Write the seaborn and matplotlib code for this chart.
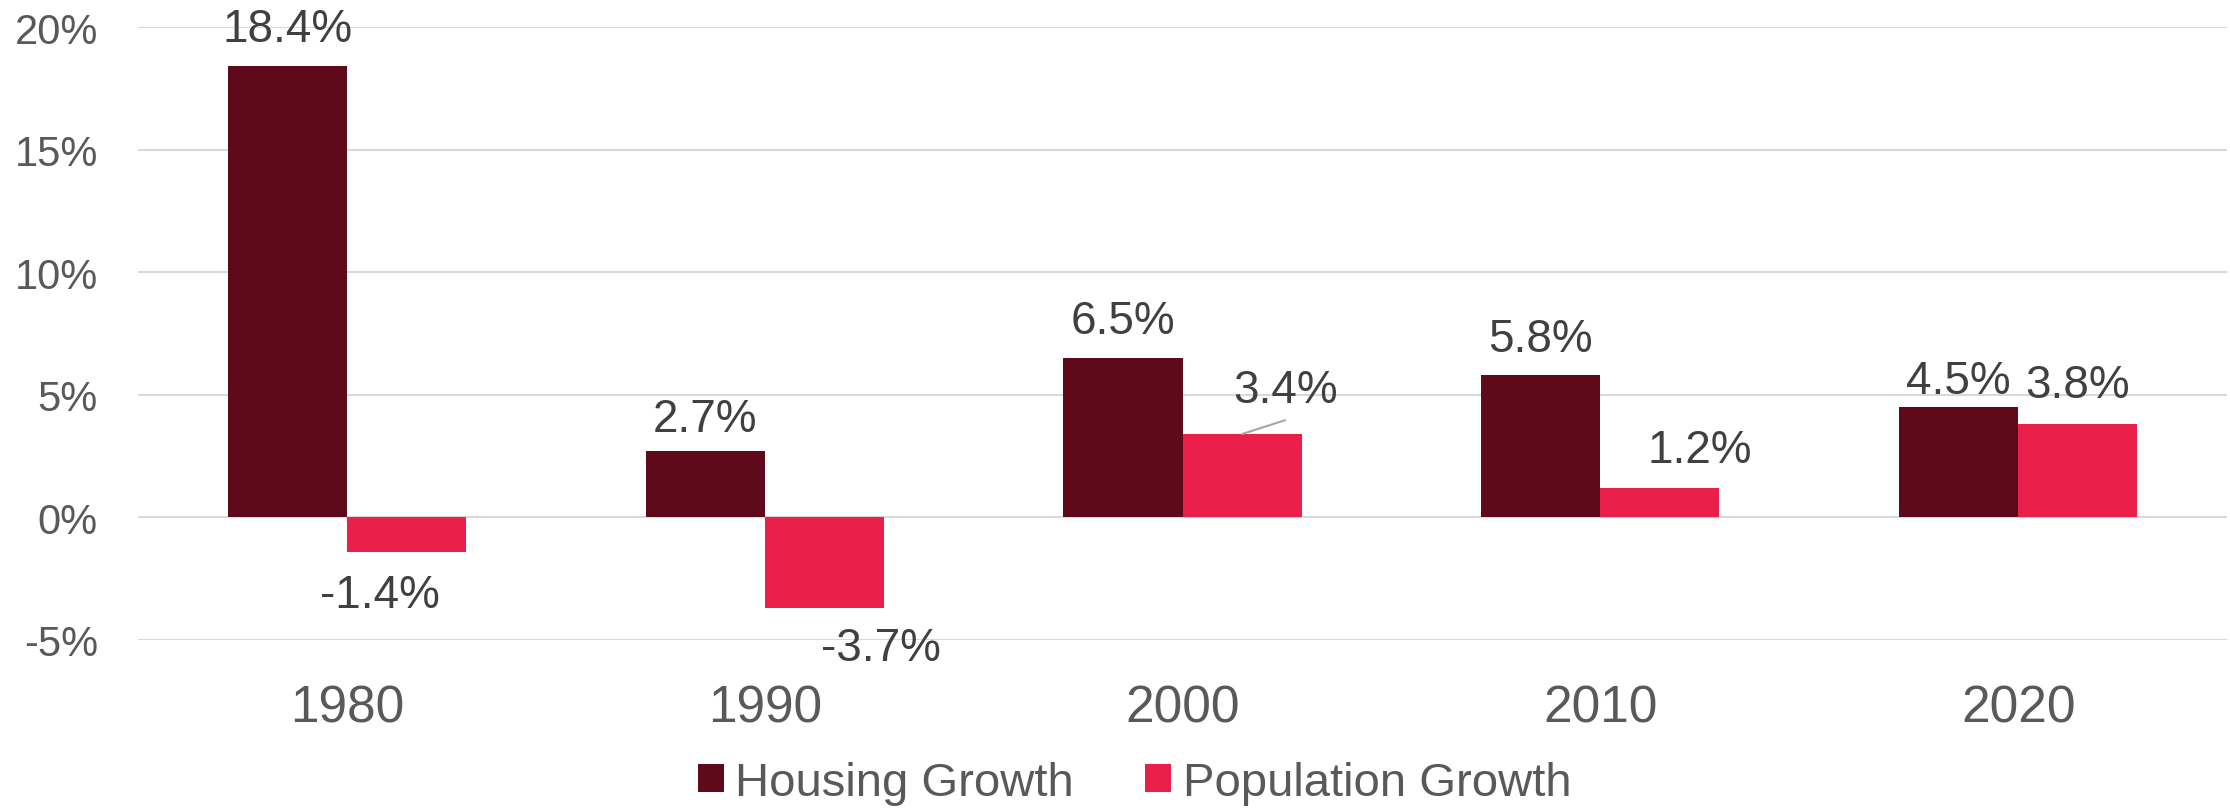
import matplotlib
matplotlib.use("Agg")
import matplotlib.pyplot as plt
import matplotlib.ticker as mticker
import pandas as pd
import seaborn as sns

# data
decades = ["1980", "1990", "2000", "2010", "2020"]
housing_growth = [18.4, 2.7, 6.5, 5.8, 4.5]
population_growth = [-1.4, -3.7, 3.4, 1.2, 3.8]
series_names = ["Housing Growth", "Population Growth"]
colors = ["#5E0A1B", "#EA204A"]

# label offsets (points) as they were hand-placed in the original
housing_offsets = [(0, 27), (0, 23), (0, 27), (0, 26), (0, 19)]
population_offsets = [(-19, -31), (41, -29), (31, 32), (29, 27), (0, 28)]

df = pd.DataFrame({
    "Decade": decades * 2,
    "Growth": housing_growth + population_growth,
    "Series": [series_names[0]] * len(decades) + [series_names[1]] * len(decades),
})

sns.set_style("white")
plt.rcParams["font.family"] = ["Liberation Sans", "DejaVu Sans"]
plt.rcParams["axes.unicode_minus"] = False

fig = plt.figure(figsize=(22.3, 8.12), dpi=100)
ax = fig.add_axes([0.0619, 0.2106, 0.9368, 0.7549])

sns.barplot(data=df, x="Decade", y="Growth", hue="Series", palette=colors,
            width=0.57, gap=0, saturation=1, edgecolor="none", ax=ax)

ax.set_ylim(-5, 20)
ax.set_xlim(-0.5, 4.5)
ax.yaxis.set_major_locator(mticker.MultipleLocator(5))
ax.yaxis.set_major_formatter(mticker.FuncFormatter(lambda v, p: f"{v:.0f}%"))
ax.grid(axis="y", color="#D9D9D9", linewidth=1.5)
ax.set_axisbelow(True)
for s in ax.spines.values():
    s.set_visible(False)
ax.tick_params(axis="y", length=0, pad=29, labelsize=30, labelcolor="#595959")
ax.tick_params(axis="x", length=0, pad=31, labelsize=37, labelcolor="#595959")
ax.set_xlabel("")
ax.set_ylabel("")

for container, offsets in zip(ax.containers, [housing_offsets, population_offsets]):
    for bar, (dx, dy) in zip(container, offsets):
        val = bar.get_height()
        x = bar.get_x() + bar.get_width() / 2
        ax.annotate(f"{val:.1f}%", xy=(x, val), xytext=(dx, dy),
                    textcoords="offset points", ha="center", va="center",
                    fontsize=33, color="#404040", annotation_clip=False)

# leader line for the 2000 population label
bar = ax.containers[1][2]
ax.annotate("", xy=(bar.get_x() + bar.get_width() / 2, bar.get_height()),
            xytext=(31, 10), textcoords="offset points",
            arrowprops=dict(arrowstyle="-", color="#A6A6A6", lw=1.5,
                            shrinkA=0, shrinkB=0))

handles, labels = ax.get_legend_handles_labels()
ax.legend(handles, labels, loc="center", bbox_to_anchor=(0.477, -0.233),
          ncol=2, frameon=False, fontsize=34, labelcolor="#595959",
          handlelength=0.55, handleheight=0.55, handletextpad=0.25,
          columnspacing=1.5, borderpad=0, borderaxespad=0)

fig.savefig("out.png", dpi=100)
